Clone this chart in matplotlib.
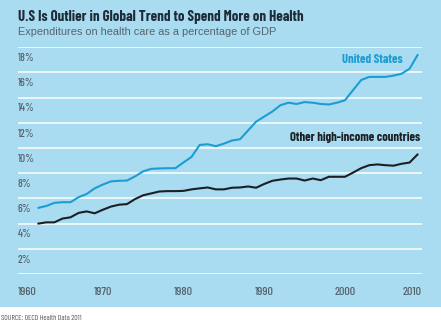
import matplotlib
matplotlib.use("Agg")
import matplotlib.pyplot as plt
import matplotlib.transforms as mtransforms
from matplotlib.patches import Rectangle

# health spending as share of GDP, 1962-2009
years = list(range(1962, 2010))
us_share = [5.25, 5.4, 5.65, 5.7, 5.7, 6.1, 6.35, 6.8, 7.1, 7.35,
            7.4, 7.42, 7.75, 8.15, 8.35, 8.38, 8.4, 8.4, 8.86, 9.3,
            10.25, 10.3, 10.15, 10.35, 10.6, 10.7, 11.4, 12.1, 12.5, 12.9,
            13.4, 13.6, 13.5, 13.65, 13.6, 13.5, 13.46, 13.6, 13.8, 14.6,
            15.4, 15.65, 15.65, 15.65, 15.75, 15.9, 16.3, 17.4]
other_share = [4.0, 4.1, 4.1, 4.4, 4.5, 4.85, 4.97, 4.82, 5.1, 5.35,
               5.5, 5.55, 5.95, 6.25, 6.4, 6.55, 6.58, 6.58, 6.6, 6.72,
               6.8, 6.87, 6.72, 6.72, 6.85, 6.87, 6.95, 6.85, 7.15, 7.4,
               7.5, 7.58, 7.58, 7.42, 7.58, 7.45, 7.72, 7.72, 7.72, 8.05,
               8.4, 8.64, 8.7, 8.64, 8.6, 8.75, 8.85, 9.5]
y_ticks = [2, 4, 6, 8, 10, 12, 14, 16, 18]
x_ticks = [1960, 1970, 1980, 1990, 2000, 2010]

BG = "#aadcf1"
BLUE = "#1b9dd3"
DARK = "#1b1f24"
NAVY = "#1f2c38"
GRAY = "#55636e"
COND = ["Barlow Condensed", "DejaVu Sans"]

W, H = 441, 322
fig = plt.figure(figsize=(W / 100, H / 100), dpi=100, facecolor="white")
fig.patches.append(Rectangle((0, 15 / H), 1, 1 - 15 / H, transform=fig.transFigure,
                             facecolor=BG, edgecolor="none", zorder=-10))

left, right, top, bottom = 18, 421.7, 47.3, 274
ax = fig.add_axes([left / W, 1 - bottom / H, (right - left) / W, (bottom - top) / H])
ax.set_facecolor("none")
ax.set_xlim(1959.5, 2009.5)
ax.set_ylim(0, 18)
ax.axis("off")

for v in [0] + y_ticks:
    ax.axhline(v, color="white", lw=1.1, zorder=1)

ax.plot(years, us_share, color=BLUE, lw=1.5, clip_on=False, zorder=3,
        solid_joinstyle="round", solid_capstyle="round")
ax.plot(years, other_share, color=DARK, lw=1.5, clip_on=False, zorder=3,
        solid_joinstyle="round", solid_capstyle="round")

# y labels sit just under their gridline
ylab = mtransforms.offset_copy(ax.get_yaxis_transform(), fig=fig, x=0, y=-13.8 * 0.72, units="points")
for v in y_ticks:
    ax.text(0, v, f"{v}%", transform=ylab, ha="left", va="baseline",
            fontsize=8.2, fontweight="medium", color=GRAY, family=COND)

xlab = mtransforms.offset_copy(ax.get_xaxis_transform(), fig=fig, x=0, y=-21 * 0.72, units="points")
for yr in x_ticks:
    ha = "center"
    xpos = yr
    if yr == x_ticks[0]:
        ha, xpos = "left", 1959.5
    elif yr == x_ticks[-1]:
        ha, xpos = "right", 2009.5
    ax.text(xpos, 0, str(yr), transform=xlab, ha=ha, va="baseline",
            fontsize=8.8, fontweight="medium", color=GRAY, family=COND)

ax.text(2007.1, 16.72, "United States", ha="right", va="baseline",
        fontsize=9.1, fontweight="bold", color=BLUE, family=COND)
ax.text(2009.3, 10.55, "Other high-income countries", ha="right", va="baseline",
        fontsize=9.1, fontweight="bold", color=DARK, family=COND)

fig.text(18 / W, 1 - 20.7 / H, "U.S Is Outlier in Global Trend to Spend More on Health",
         ha="left", va="baseline", fontsize=10.7, fontweight="bold", color=NAVY, family=COND)
fig.text(18 / W, 1 - 35.3 / H, "Expenditures on health care as a percentage of GDP",
         ha="left", va="baseline", fontsize=7.9, color=GRAY, family=["Liberation Sans", "DejaVu Sans"])
fig.text(1 / W, 1 - 319.5 / H, "SOURCE: OECD Health Data 2011",
         ha="left", va="baseline", fontsize=5.6, color="#555555", family=COND)

fig.savefig("out.png", dpi=100, facecolor="white")
